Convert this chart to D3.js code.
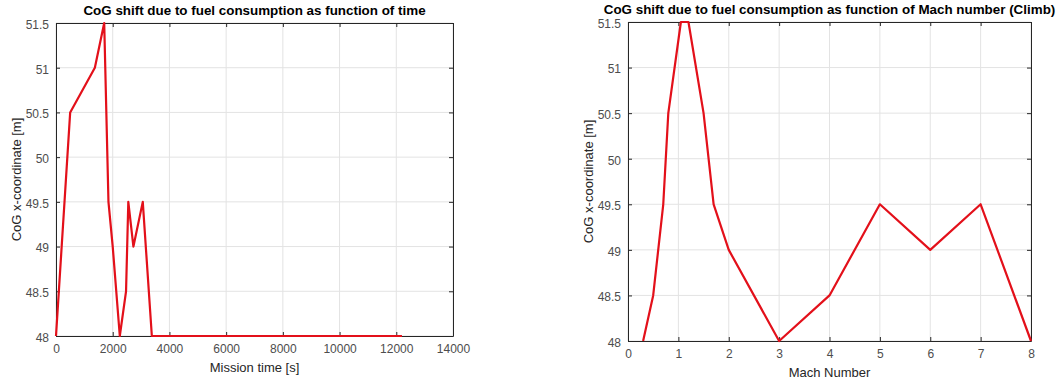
<!DOCTYPE html>
<html>
<head>
<meta charset="utf-8">
<script src="https://cdn.jsdelivr.net/npm/d3@7"></script>
<style>
  body { margin: 0; background: #fff; }
  svg { font-family: "Liberation Sans", Arial, sans-serif; }
  .tick text { fill: #4d4d4d; font-size: 12px; }
  .title { font-weight: bold; font-size: 13.4px; fill: #000; }
  .axisText { font-size: 13px; fill: #262626; }
</style>
</head>
<body>
<div id="chart"></div>
<script>
// left plot: CoG vs mission time
var timeValues = [0, 500, 1370, 1700, 1850, 2000, 2250, 2470, 2550, 2730, 3060, 3380, 12200];
var timeCog = [48, 50.5, 51, 51.5, 49.5, 49, 48, 48.5, 49.5, 49, 49.5, 48, 48];

// right plot: CoG vs Mach number (climb)
var machValues = [0.3, 0.5, 0.7, 0.8, 1.05, 1.2, 1.5, 1.7, 2, 3, 4, 5, 6, 7, 8];
var machCog = [48, 48.5, 49.5, 50.5, 51.5, 51.5, 50.5, 49.5, 49, 48, 48.5, 49.5, 49, 49.5, 48];

var timeTicks = [0, 2000, 4000, 6000, 8000, 10000, 12000, 14000];
var machTicks = [0, 1, 2, 3, 4, 5, 6, 7, 8];
var cogTicks = [48, 48.5, 49, 49.5, 50, 50.5, 51, 51.5];

var svgWidth = 1062, svgHeight = 383;

var svg = d3.select("#chart")
  .append("svg")
  .attr("width", svgWidth)
  .attr("height", svgHeight);

function drawPlot(cfg) {
  var width = cfg.right - cfg.left;
  var height = cfg.bottom - cfg.top;

  var g = svg.append("g")
    .attr("transform", `translate(${cfg.left}, ${cfg.top})`);

  var xScale = d3.scaleLinear().domain(cfg.xDomain).range([0, width]);
  var yScale = d3.scaleLinear().domain([48, 51.5]).range([height, 0]);

  // grid
  g.append("g").selectAll("line")
    .data(cfg.xTicks)
    .enter()
    .append("line")
    .attr("x1", d => xScale(d)).attr("x2", d => xScale(d))
    .attr("y1", 0).attr("y2", height)
    .attr("stroke", "#e3e3e3");

  g.append("g").selectAll("line")
    .data(cogTicks)
    .enter()
    .append("line")
    .attr("x1", 0).attr("x2", width)
    .attr("y1", d => yScale(d)).attr("y2", d => yScale(d))
    .attr("stroke", "#e3e3e3");

  // axes with inward ticks
  var bottomAxis = d3.axisBottom(xScale).tickValues(cfg.xTicks)
    .tickFormat(d3.format("d")).tickSizeInner(-4).tickSizeOuter(0).tickPadding(8);
  var leftAxis = d3.axisLeft(yScale).tickValues(cogTicks)
    .tickFormat(d => d).tickSizeInner(-4).tickSizeOuter(0).tickPadding(7);
  var topAxis = d3.axisTop(xScale).tickValues(cfg.xTicks)
    .tickFormat("").tickSizeInner(-4).tickSizeOuter(0);
  var rightAxis = d3.axisRight(yScale).tickValues(cogTicks)
    .tickFormat("").tickSizeInner(-4).tickSizeOuter(0);

  var axes = [
    g.append("g").attr("transform", `translate(0, ${height})`).call(bottomAxis),
    g.append("g").call(leftAxis),
    g.append("g").call(topAxis),
    g.append("g").attr("transform", `translate(${width}, 0)`).call(rightAxis)
  ];
  axes.forEach(a => {
    a.select(".domain").attr("stroke", "#262626");
    a.selectAll(".tick line").attr("stroke", "#262626");
  });
  axes[1].selectAll(".tick text").attr("dy", "0.45em");

  var points = cfg.xs.map((x, i) => ({x: x, y: cfg.ys[i]}));
  var line = d3.line().x(d => xScale(d.x)).y(d => yScale(d.y));

  g.append("path")
    .datum(points)
    .attr("fill", "none")
    .attr("stroke", "#e3101a")
    .attr("stroke-width", 2.2)
    .attr("stroke-linejoin", "round")
    .attr("d", line);

  // titles and labels
  g.append("text")
    .attr("class", "title")
    .attr("text-anchor", "middle")
    .attr("x", width / 2)
    .attr("y", cfg.titleY - cfg.top)
    .text(cfg.title);

  g.append("text")
    .attr("class", "axisText")
    .attr("text-anchor", "middle")
    .attr("x", width / 2)
    .attr("y", cfg.xLabelY - cfg.top)
    .text(cfg.xLabel);

  g.append("text")
    .attr("class", "axisText")
    .attr("text-anchor", "middle")
    .attr("transform", `translate(${cfg.yLabelX - cfg.left}, ${height / 2}) rotate(-90)`)
    .text("CoG x-coordinate [m]");
}

drawPlot({
  id: 1, left: 56, right: 453, top: 23, bottom: 336,
  xDomain: [0, 14000], xTicks: timeTicks,
  xs: timeValues, ys: timeCog,
  title: "CoG shift due to fuel consumption as function of time",
  titleY: 15, xLabel: "Mission time [s]", xLabelY: 372, yLabelX: 21
});

drawPlot({
  id: 2, left: 628, right: 1031, top: 22, bottom: 341,
  xDomain: [0, 8], xTicks: machTicks,
  xs: machValues, ys: machCog,
  title: "CoG shift due to fuel consumption as function of Mach number (Climb)",
  titleY: 14, xLabelY: 377, xLabel: "Mach Number", yLabelX: 593
});
</script>
</body>
</html>
